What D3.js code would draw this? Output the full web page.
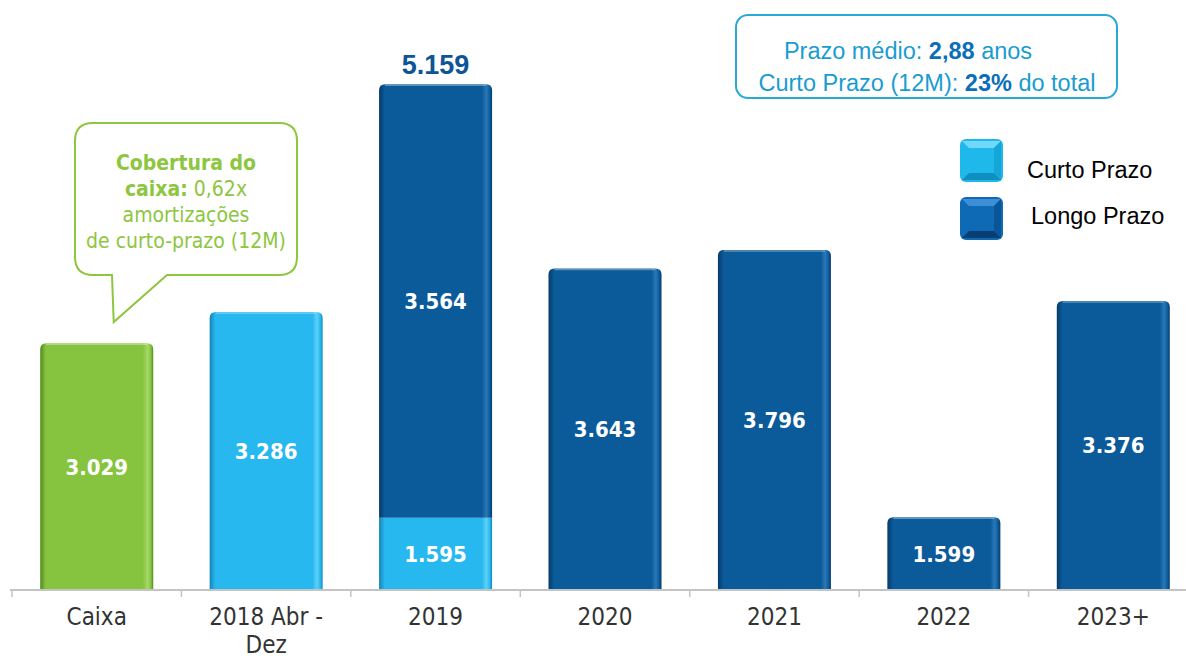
<!DOCTYPE html>
<html lang="pt">
<head>
<meta charset="UTF-8">
<title>Cronograma de amortização</title>
<style>
  body { margin: 0; background: #fff; }
  svg { display: block; }
</style>
</head>
<body>
<script src="https://d3js.org/d3.v7.min.js"></script>
<script>
// dados (R$ milhões)
var categories = ["Caixa", "2018 Abr - Dez", "2019", "2020", "2021", "2022", "2023+"];
var caixa      = [3029, 0, 0, 0, 0, 0, 0];
var curtoPrazo = [0, 3286, 1595, 0, 0, 0, 0];
var longoPrazo = [0, 0, 3564, 3643, 3796, 1599, 3376];
var legendLabels = ["Curto Prazo", "Longo Prazo"];

var width = 1186, height = 659;
var baseY = 590;

var svg = d3.select("body").append("svg").attr("width", width).attr("height", height)
  .style("font-family", "'DejaVu Sans Condensed', 'DejaVu Sans', sans-serif");

var fmt = d3.formatLocale({decimal: ",", thousands: ".", grouping: [3], currency: ["R$", ""]}).format(",d");

var rows = categories.map(function(c, i) {
  return {cat: c, caixa: caixa[i], curto: curtoPrazo[i], longo: longoPrazo[i]};
});
var keys = ["caixa", "curto", "longo"];
var stack = d3.stack().keys(keys)(rows);

var x = d3.scaleBand().domain(categories).range([12, 1198]).paddingInner(0.333).paddingOuter(0.1665);
// eixo do gráfico original começa em 1.000
var y = d3.scaleLinear().domain([1000, 5200]).range([baseY, 79.3]).clamp(true);

var colors = {caixa: "#86c440", curto: "#27b8ef", longo: "#0b5a99"};
var edges  = {caixa: ["#4f8a1c", "#a6d86a"], curto: ["#1585b8", "#5fd0f7"], longo: ["#063a6a", "#2a78b8"]};

// gradientes para o efeito 3D das barras
var defs = svg.append("defs");
keys.forEach(function(k) {
  var g = defs.append("linearGradient").attr("id", "g-" + k).attr("x1", 0).attr("x2", 1).attr("y1", 0).attr("y2", 0);
  g.append("stop").attr("offset", "0%").attr("stop-color", edges[k][0]);
  g.append("stop").attr("offset", "5%").attr("stop-color", colors[k]);
  g.append("stop").attr("offset", "91%").attr("stop-color", colors[k]);
  g.append("stop").attr("offset", "95%").attr("stop-color", edges[k][1]);
  g.append("stop").attr("offset", "98%").attr("stop-color", colors[k]);
  g.append("stop").attr("offset", "100%").attr("stop-color", edges[k][0]);
});

// topo de cada pilha (para arredondar os cantos)
var topKey = rows.map(function(r) {
  var t = null;
  keys.forEach(function(k) { if (r[k] > 0) t = k; });
  return t;
});

function barPath(x0, w, yTop, yBot, rounded) {
  var r = rounded ? 6 : 0;
  return "M" + x0 + "," + yBot +
    "V" + (yTop + r) +
    (r ? "Q" + x0 + "," + yTop + " " + (x0 + r) + "," + yTop : "") +
    "H" + (x0 + w - r) +
    (r ? "Q" + (x0 + w) + "," + yTop + " " + (x0 + w) + "," + (yTop + r) : "") +
    "V" + yBot + "Z";
}

function segs(s) {
  return s.map(function(d, i) { return {key: s.key, d: d, i: i}; })
    .filter(function(o) { return o.d[1] - o.d[0] > 0; });
}

var layers = svg.selectAll("g.layer").data(stack).enter().append("g").attr("class", "layer");

layers.selectAll("path")
  .data(segs)
  .enter().append("path")
  .attr("d", function(o) {
    return barPath(x(categories[o.i]), x.bandwidth(), y(o.d[1]), y(o.d[0]), topKey[o.i] === o.key);
  })
  .attr("fill", function(o) { return "url(#g-" + o.key + ")"; });

// brilho no topo das barras
layers.selectAll("line.hl")
  .data(function(s) { return segs(s).filter(function(o) { return topKey[o.i] === o.key; }); })
  .enter().append("line")
  .attr("x1", function(o) { return x(categories[o.i]) + 6; })
  .attr("x2", function(o) { return x(categories[o.i]) + x.bandwidth() - 6; })
  .attr("y1", function(o) { return y(o.d[1]) + 1; })
  .attr("y2", function(o) { return y(o.d[1]) + 1; })
  .attr("stroke", "#ffffff").attr("stroke-opacity", 0.35).attr("stroke-width", 1.5);

// rótulos de valor
layers.selectAll("text")
  .data(segs)
  .enter().append("text")
  .attr("x", function(o) { return x(categories[o.i]) + x.bandwidth() / 2; })
  .attr("y", function(o) { return (y(o.d[1]) + y(o.d[0])) / 2; })
  .attr("dy", "0.36em")
  .attr("text-anchor", "middle")
  .attr("fill", "#ffffff")
  .attr("font-weight", "bold")
  .attr("font-size", 22)
  .text(function(o) { return fmt(o.d[1] - o.d[0]); });

// total acima das barras empilhadas
rows.forEach(function(r, i) {
  var n = keys.filter(function(k) { return r[k] > 0; }).length;
  if (n > 1) {
    var tot = d3.sum(keys, function(k) { return r[k]; });
    svg.append("text")
      .attr("x", x(r.cat) + x.bandwidth() / 2)
      .attr("y", y(tot) - 10)
      .attr("text-anchor", "middle")
      .attr("fill", "#0d5596")
      .attr("font-family", "'Liberation Sans', Arial, sans-serif")
      .attr("font-weight", "bold")
      .attr("font-size", 27)
      .text(fmt(tot));
  }
});

// eixo x
var xAxis = svg.append("g")
  .attr("class", "axis")
  .attr("transform", "translate(0," + baseY + ")")
  .call(d3.axisBottom(x).tickSize(0).tickSizeOuter(0));
xAxis.select(".domain").attr("stroke", "#c4c4c4").attr("stroke-width", 2).attr("d", "M10,0H" + width);
xAxis.selectAll(".tick text")
  .attr("y", 35).attr("dy", 0)
  .attr("fill", "#333333")
  .attr("font-size", 24)
  .attr("font-family", "'DejaVu Sans Condensed', 'DejaVu Sans', sans-serif")
  .each(function(d) {
    var t = d3.select(this);
    var k = d.indexOf(" - ");
    var parts = k > 0 ? [d.slice(0, k + 2), d.slice(k + 3)] : [d];
    t.text(null);
    parts.forEach(function(p, j) {
      t.append("tspan").attr("x", 0).attr("dy", j === 0 ? 0 : 28).text(p);
    });
  });
xAxis.selectAll("line.sep")
  .data(d3.range(categories.length + 1))
  .enter().append("line")
  .attr("class", "sep")
  .attr("x1", function(i) { return 12 + i * x.step(); })
  .attr("x2", function(i) { return 12 + i * x.step(); })
  .attr("y1", 0).attr("y2", 7)
  .attr("stroke", "#c4c4c4").attr("stroke-width", 1.5);

// balão de cobertura do caixa
var cx0 = x("Caixa") + x.bandwidth() / 2;
var bubble = svg.append("g");
bubble.append("path")
  .attr("d", "M93,123 H279 Q297,123 297,141 V257 Q297,275 279,275 H167 L" + (cx0 + 17) + ",322 L112,275 H93 Q75,275 75,257 V141 Q75,123 93,123 Z")
  .attr("fill", "#ffffff").attr("stroke", "#8dc63f").attr("stroke-width", 2);
var bt = bubble.append("text").attr("text-anchor", "middle").attr("fill", "#8dc63f").attr("font-size", 21);
bt.append("tspan").attr("x", 186).attr("y", 170).attr("font-weight", "bold").text("Cobertura do");
var l2 = bt.append("tspan").attr("x", 186).attr("y", 196);
l2.append("tspan").attr("font-weight", "bold").text("caixa:");
l2.append("tspan").text(" 0,62x");
bt.append("tspan").attr("x", 186).attr("y", 222).text("amortizações");
bt.append("tspan").attr("x", 186).attr("y", 248).text("de curto-prazo (12M)");

// caixa de prazo médio
var info = svg.append("g").attr("font-family", "'Liberation Sans', Arial, sans-serif").attr("font-size", 23.5);
info.append("rect").attr("x", 736).attr("y", 15).attr("width", 381).attr("height", 83).attr("rx", 12)
  .attr("fill", "#ffffff").attr("stroke", "#29a9d6").attr("stroke-width", 2);
var i1 = info.append("text").attr("x", 908).attr("y", 59).attr("text-anchor", "middle").attr("fill", "#1a9cd0");
i1.append("tspan").text("Prazo médio: ");
i1.append("tspan").attr("font-weight", "bold").attr("fill", "#0b6fb8").text("2,88");
i1.append("tspan").text(" anos");
var i2 = info.append("text").attr("x", 927).attr("y", 91).attr("text-anchor", "middle").attr("fill", "#1a9cd0");
i2.append("tspan").text("Curto Prazo (12M): ");
i2.append("tspan").attr("font-weight", "bold").attr("fill", "#0b6fb8").text("23%");
i2.append("tspan").text(" do total");

// legenda com ícones chanfrados
var legColors = [["#1eb8ea", "#6fd8fb", "#0e8fc0", "#14a6d8"], ["#0f6ab5", "#3c8fd6", "#073f74", "#0a5596"]];
var legend = svg.append("g").attr("font-family", "'Liberation Sans', Arial, sans-serif");
legendLabels.forEach(function(lab, i) {
  var gx = 960, gy = 139 + i * 58, s = 43, b = 9;
  var g = legend.append("g").attr("transform", "translate(" + gx + "," + gy + ")");
  g.append("rect").attr("width", s).attr("height", s).attr("rx", 6).attr("fill", legColors[i][0]);
  g.append("polygon").attr("points", [[2, 2], [s - 2, 2], [s - b, b], [b, b]].join(" ")).attr("fill", legColors[i][1]);
  g.append("polygon").attr("points", [[2, s - 2], [s - 2, s - 2], [s - b, s - b], [b, s - b]].join(" ")).attr("fill", legColors[i][2]);
  g.append("polygon").attr("points", [[s - 2, 2], [s - 2, s - 2], [s - b, s - b], [s - b, b]].join(" ")).attr("fill", legColors[i][3]);
  g.append("rect").attr("x", b).attr("y", b).attr("width", s - 2 * b).attr("height", s - 2 * b).attr("fill", legColors[i][0]);
  legend.append("text").attr("x", 1027 + i * 4).attr("y", 178 + i * 46).attr("font-size", 23.5).attr("fill", "#000").text(lab);
});
</script>
</body>
</html>
